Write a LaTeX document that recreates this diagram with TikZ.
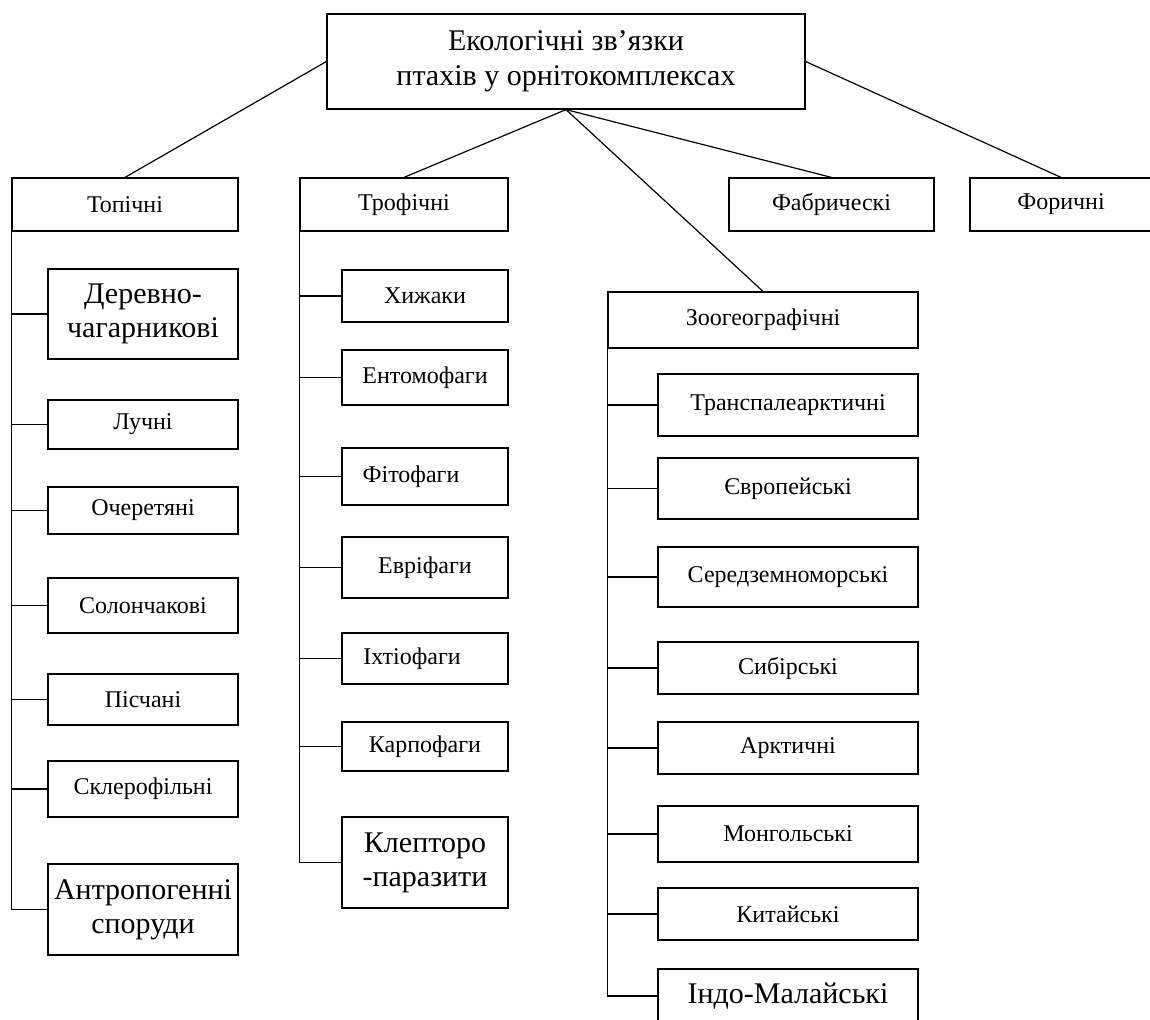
\documentclass[tikz,border=0pt]{standalone}
\usepackage{fontspec}
\setmainfont{Liberation Serif}

\begin{document}
\begin{tikzpicture}[x=1pt,y=-1pt,
    bigfont/.style={font=\fontsize{30}{34}\selectfont}]
\useasboundingbox (0,0) rectangle (1150,1019);
\begin{scope}[every node/.style={rectangle,draw,line width=1.2pt,inner sep=2pt,align=center,
              font=\fontsize{30}{35}\selectfont}]
    \node[minimum width=478pt,minimum height=95pt] (T) at (566,61.5) {Екологічні зв’язки\\птахів у орнітокомплексах};
\end{scope}
\begin{scope}[every node/.style={rectangle,draw,line width=1.2pt,inner sep=2pt,minimum height=53pt,
              font=\fontsize{24}{28}\selectfont}]
    \node[minimum width=226pt] (L1) at (125,204.5) {Топічні};
    \node[minimum width=208pt] (L2) at (404,204.5) {Трофічні};
    \node[minimum width=205pt] (L3) at (831.5,204.5) {Фабрическі};
    \node[minimum width=182pt] (L4) at (1061,204.5) {Форичні};
    \node[minimum width=310pt,minimum height=56pt] (L5) at (763,320) {Зоогеографічні};
\end{scope}
\begin{scope}[every node/.style={rectangle,draw,line width=1.2pt,inner sep=2pt,align=center,
              minimum width=190pt,font=\fontsize{24}{28}\selectfont}]
    \node[bigfont,minimum height=90pt] (A1) at (143,314) {Деревно-\\чагарникові};
    \node[minimum height=49pt] (A2) at (143,424.5) {Лучні};
    \node[minimum height=47pt] (A3) at (143,510.5) {Очеретяні};
    \node[minimum height=55pt] (A4) at (143,605.5) {Солончакові};
    \node[minimum height=51pt] (A5) at (143,699.5) {Пісчані};
    \node[minimum height=56pt] (A6) at (143,789) {Склерофільні};
    \node[bigfont,minimum height=91pt] (A7) at (143,909.5) {Антропогенні\\споруди};
\end{scope}
\begin{scope}[every node/.style={rectangle,draw,line width=1.2pt,inner sep=2pt,align=center,
              minimum width=166pt,font=\fontsize{24}{28}\selectfont}]
    \node[minimum height=52pt] (B1) at (425,296) {Хижаки};
    \node[minimum height=55pt] (B2) at (425,377.5) {Ентомофаги};
    \node[minimum height=57pt] (B3) at (425,476.5) {Фітофаги\hspace{28pt}};
    \node[minimum height=61pt] (B4) at (425,567.5) {Евріфаги};
    \node[minimum height=51pt] (B5) at (425,658.5) {Іхтіофаги\hspace{26pt}};
    \node[minimum height=49pt] (B6) at (425,746.5) {Карпофаги};
    \node[bigfont,minimum height=91pt] (B7) at (425,862.5) {Клепторо\\-паразити};
\end{scope}
\begin{scope}[every node/.style={rectangle,draw,line width=1.2pt,inner sep=2pt,
              minimum width=260pt,font=\fontsize{24}{28}\selectfont}]
    \node[minimum height=62pt] (C1) at (788,405) {Транспалеарктичні};
    \node[minimum height=61pt] (C2) at (788,488.5) {Європейські};
    \node[minimum height=60pt] (C3) at (788,577) {Середземноморські};
    \node[minimum height=52pt] (C4) at (788,668) {Сибірські};
    \node[minimum height=52pt] (C5) at (788,748) {Арктичні};
    \node[minimum height=56pt] (C6) at (788,834) {Монгольські};
    \node[minimum height=52pt] (C7) at (788,914) {Китайські};
    \node[bigfont,minimum height=54pt] (C8) at (788,996) {Індо-Малайські};
\end{scope}
\begin{scope}[every edge/.style={draw=black,line width=1.2pt}]
    \path [-] (T.west) edge (L1.north);
    \path [-] (T.south) edge (L2.north);
    \path [-] (T.south) edge (L5.north);
    \path [-] (T.south) edge (L3.north);
    \path [-] (T.east) edge (L4.north);
\end{scope}
\begin{scope}[every edge/.style={draw=black,line width=1.2pt}]
    \path [-] (L1.south west) edge (L1.west |- A7);
    \path [-] (L1.west |- A1) edge (A1.west);
    \path [-] (L1.west |- A2) edge (A2.west);
    \path [-] (L1.west |- A3) edge (A3.west);
    \path [-] (L1.west |- A4) edge (A4.west);
    \path [-] (L1.west |- A5) edge (A5.west);
    \path [-] (L1.west |- A6) edge (A6.west);
    \path [-] (L1.west |- A7) edge (A7.west);
\end{scope}
\begin{scope}[every edge/.style={draw=black,line width=1.2pt}]
    \path [-] (L2.south west) edge (L2.west |- B7);
    \path [-] (L2.west |- B1) edge (B1.west);
    \path [-] (L2.west |- B2) edge (B2.west);
    \path [-] (L2.west |- B3) edge (B3.west);
    \path [-] (L2.west |- B4) edge (B4.west);
    \path [-] (L2.west |- B5) edge (B5.west);
    \path [-] (L2.west |- B6) edge (B6.west);
    \path [-] (L2.west |- B7) edge (B7.west);
\end{scope}
\begin{scope}[every edge/.style={draw=black,line width=1.2pt}]
    \path [-] (L5.south west) edge (L5.west |- C8);
    \path [-] (L5.west |- C1) edge (C1.west);
    \path [-] (L5.west |- C2) edge (C2.west);
    \path [-] (L5.west |- C3) edge (C3.west);
    \path [-] (L5.west |- C4) edge (C4.west);
    \path [-] (L5.west |- C5) edge (C5.west);
    \path [-] (L5.west |- C6) edge (C6.west);
    \path [-] (L5.west |- C7) edge (C7.west);
    \path [-] (L5.west |- C8) edge (C8.west);
\end{scope}
\end{tikzpicture}
\end{document}
